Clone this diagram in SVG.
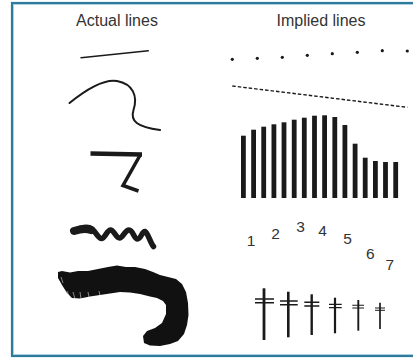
<svg xmlns="http://www.w3.org/2000/svg" width="413" height="358" viewBox="0 0 413 358">
<style>
.title{font-family:"Liberation Sans",Arial,sans-serif;font-size:16px;fill:#333;text-anchor:middle}
.num{font-family:"Liberation Sans",Arial,sans-serif;font-size:15.5px;fill:#333;text-anchor:middle}
.ln{fill:none;stroke:#1a1a1a;stroke-linecap:round}
.bar{fill:#1a1a1a}
.dot{fill:#1a1a1a}
.cross{stroke:#1a1a1a;fill:none}
</style>
<rect x="0" y="0" width="413" height="358" fill="#fff"/>
<rect x="12" y="3" width="430" height="353" fill="none" stroke="#2e7b9c" stroke-width="2.2"/>
<rect x="13.5" y="4.5" width="430" height="350" fill="none" stroke="#9cc8dc" stroke-width="0.8"/>

<g id="titles">
<text class="title" x="117" y="26">Actual lines</text>
<text class="title" x="321" y="26">Implied lines</text>
</g>

<g id="actual-lines">
<path class="ln" d="M81,57.7 L148.3,50.7" stroke-width="1.4"/>
<path class="ln" d="M69.5,103 C88,88 105,79 117,81 C133,84 138,96 133.5,110 C130,121 137,127 160,130" stroke-width="2"/>
<path d="M90.5,153.5 L142,154.5" fill="none" stroke="#1a1a1a" stroke-width="4.5"/>
<path d="M140.5,154.5 L123,185.5 L138.5,191" fill="none" stroke="#1a1a1a" stroke-width="3.5" stroke-linejoin="miter"/>
<path class="ln" d="M74,231 C80,228 88,226 92,229 C96,232 98,238.5 101.5,238.5 C105,238.5 107,230 110.5,230 C114,230 116,238 119.5,238 C123,238 125,230 129,230 C133,230 134,239 137.5,239 C141,239 142,231 145,231.5 C148,233 150,242 153.5,246.5" stroke-width="5.5"/>
<path class="ln" d="M74,231 C80,229 86,228 91,230" stroke-width="8"/>
<path fill="#111" d="M58,272 L62,271 L70,272.5 L78,271 L88,271 L98,269 L108,267 L117,265.5 L126,267 L135,267 L145,269 L153,272 L160,275 L168,277 L176,279 L182,284 L186,292 L188,303 L188.5,315 L187,325 L184,334 L178,341 L170,344 L160,346 L150,345.5 L144,343 L143,336 L147,331 L155,328 L162,323 L166,314 L166,305 L163,301 L157,298 L150,296.5 L140,294 L130,292.5 L120,292 L110,293.5 L100,295 L90,296.5 L80,298.5 L72,298 L67,293 L62,285 L58,278 Z"/>
<g stroke="#fff" stroke-width="0.5">
<path d="M67,291 L70,298.5"/><path d="M73,292 L75,299"/><path d="M80,292 L81,299"/><path d="M88,292 L89,297"/><path d="M99,291 L100,295.5"/><path d="M61,277 L63,283"/>
</g>
</g>

<g id="dots">
<circle class="dot" cx="232.3" cy="59.3" r="1.6"/>
<circle class="dot" cx="257.3" cy="58.3" r="1.6"/>
<circle class="dot" cx="282.3" cy="57.3" r="1.6"/>
<circle class="dot" cx="307.3" cy="55.3" r="1.6"/>
<circle class="dot" cx="332.3" cy="53.7" r="1.6"/>
<circle class="dot" cx="357.3" cy="52.3" r="1.6"/>
<circle class="dot" cx="382.3" cy="50.7" r="1.6"/>
<circle class="dot" cx="407.3" cy="51" r="1.6"/>
</g>

<g id="dashed">
<path d="M232.3,86 L407.3,107.3" fill="none" stroke="#1a1a1a" stroke-width="1.4" stroke-dasharray="3.5,2"/>
</g>

<g id="bars">
<rect class="bar" x="241" y="135.7" width="4.8" height="62.3"/>
<rect class="bar" x="251.2" y="129.7" width="4.8" height="68.3"/>
<rect class="bar" x="261.3" y="126.7" width="4.8" height="71.3"/>
<rect class="bar" x="271.5" y="124.3" width="4.8" height="73.7"/>
<rect class="bar" x="281.6" y="122.3" width="4.8" height="75.7"/>
<rect class="bar" x="291.8" y="119.7" width="4.8" height="78.3"/>
<rect class="bar" x="301.9" y="117.7" width="4.8" height="80.3"/>
<rect class="bar" x="312.1" y="115.7" width="4.8" height="82.3"/>
<rect class="bar" x="322.2" y="115.3" width="4.8" height="82.7"/>
<rect class="bar" x="332.4" y="117" width="4.8" height="81"/>
<rect class="bar" x="342.5" y="125" width="4.8" height="73"/>
<rect class="bar" x="352.7" y="143.7" width="4.8" height="54.3"/>
<rect class="bar" x="362.8" y="157.7" width="4.8" height="40.3"/>
<rect class="bar" x="373" y="161" width="4.8" height="37"/>
<rect class="bar" x="383.1" y="162" width="4.8" height="36"/>
<rect class="bar" x="393.3" y="162" width="4.8" height="36"/>
</g>

<g id="numbers">
<text class="num" x="251" y="245.7">1</text>
<text class="num" x="275.5" y="239">2</text>
<text class="num" x="300.5" y="231.7">3</text>
<text class="num" x="322.5" y="235.7">4</text>
<text class="num" x="347.5" y="244">5</text>
<text class="num" x="370.3" y="259">6</text>
<text class="num" x="389.7" y="270">7</text>
</g>

<g id="crosses" class="cross">
<path d="M264,288.3 V340" stroke-width="2.8"/><path d="M255,299 H274 M255,302.7 H274" stroke-width="1.6"/>
<path d="M288.3,291.7 V337.3" stroke-width="2.6"/><path d="M280,301 H297.7 M280,304.7 H297.7" stroke-width="1.5"/>
<path d="M311.7,294.3 V335" stroke-width="2.4"/><path d="M304.3,302.3 H319.3 M304.3,306 H319.3" stroke-width="1.4"/>
<path d="M335,297.7 V333.3" stroke-width="2.2"/><path d="M329,304.3 H341.7 M329,307.7 H341.7" stroke-width="1.3"/>
<path d="M358.3,300 V330.7" stroke-width="1.9"/><path d="M352.3,305.3 H364 M352.3,308 H364" stroke-width="1.1"/>
<path d="M380,302.7 V329" stroke-width="1.7"/><path d="M375,308 H385 M375,310.3 H385" stroke-width="1"/>
</g>
</svg>
